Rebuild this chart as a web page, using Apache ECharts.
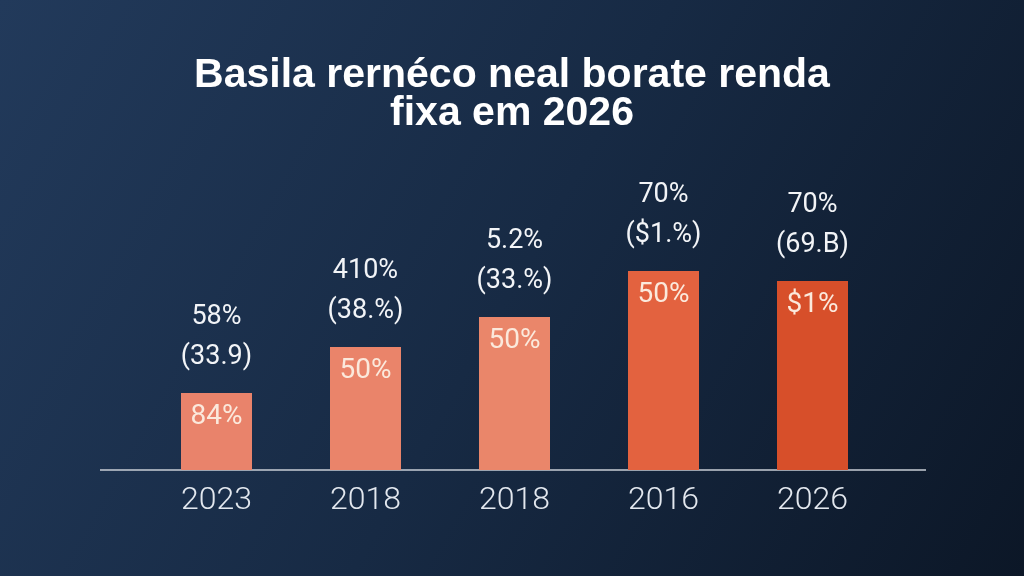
<!DOCTYPE html>
<html>
<head>
<meta charset="utf-8">
<script src="https://cdn.jsdelivr.net/npm/echarts@6/dist/echarts.min.js"></script>
<style>
  html, body { margin: 0; padding: 0; background: #13233a; }
  #chart { width: 1024px; height: 576px; }
</style>
</head>
<body>
<div id="chart"></div>
<script>
// chart data
var titleText = 'Basila rernéco neal borate renda\nfixa em 2026';
var categories = ['2023', '2018', '2018', '2016', '2026'];
var values = [77, 123, 153, 199, 189];
var topLabels = ['58%', '410%', '5.2%', '70%', '70%'];
var subLabels = ['(33.9)', '(38.%)', '(33.%)', '($1.%)', '(69.B)'];
var innerLabels = ['84%', '50%', '50%', '50%', '$1%'];
var barColors = ['#e9836b', '#ea846a', '#ea866a', '#e3623f', '#d74f2a'];

(function() {
    'use strict';

    var chart = echarts.init(document.getElementById('chart'));

    var barData = values.map(function(v, i) {
        return {
            value: v,
            itemStyle: { color: barColors[i] }
        };
    });

    // labels above the bars use a hidden copy of the series
    var topData = values.map(function(v, i) {
        return {
            value: v,
            label: { formatter: '{a|' + topLabels[i] + '}\n{b|' + subLabels[i] + '}' }
        };
    });

    var labelFont = {
        color: '#f2f4f7',
        fontFamily: 'Roboto, sans-serif',
        fontWeight: 'normal',
        fontSize: 27,
        lineHeight: 40
    };

    var option = {
        backgroundColor: new echarts.graphic.LinearGradient(0, 0, 1, 1, [
            { offset: 0, color: '#223a5b' },
            { offset: 0.5, color: '#172a44' },
            { offset: 1, color: '#0c1727' }
        ]),
        title: {
            text: titleText,
            left: 'center',
            top: 52,
            textStyle: {
                color: '#ffffff',
                fontFamily: 'Liberation Sans, Arial, sans-serif',
                fontWeight: 'bold',
                fontSize: 41,
                lineHeight: 38
            }
        },
        grid: { left: 142, right: 137, top: 170, bottom: 106 },
        xAxis: {
            type: 'category',
            data: categories,
            axisLine: { show: false },
            axisTick: { show: false },
            axisLabel: {
                color: '#e3e8ef',
                fontFamily: 'Roboto, sans-serif',
                fontWeight: 300,
                fontSize: 32,
                margin: 15
            }
        },
        yAxis: {
            type: 'value',
            min: 0,
            max: 300,
            show: false,
            splitLine: { show: false }
        },
        graphic: [{
            type: 'line',
            shape: { x1: 100, y1: 470, x2: 926, y2: 470 },
            style: { stroke: '#c9ced6', lineWidth: 1.5 }
        }],
        series: [{
            type: 'bar',
            data: barData,
            barWidth: 71,
            label: {
                show: true,
                position: 'insideTop',
                distance: 10,
                color: '#fbe9dc',
                fontFamily: 'Roboto, sans-serif',
                fontSize: 28,
                formatter: function(p) {
                    return innerLabels[p.dataIndex];
                }
            }
        }, {
            type: 'bar',
            data: topData,
            barWidth: 71,
            barGap: '-100%',
            itemStyle: { color: 'transparent' },
            silent: true,
            label: {
                show: true,
                position: 'top',
                distance: 16,
                rich: {
                    a: labelFont,
                    b: labelFont
                }
            }
        }]
    };

    chart.setOption(option);
})();
</script>
</body>
</html>
